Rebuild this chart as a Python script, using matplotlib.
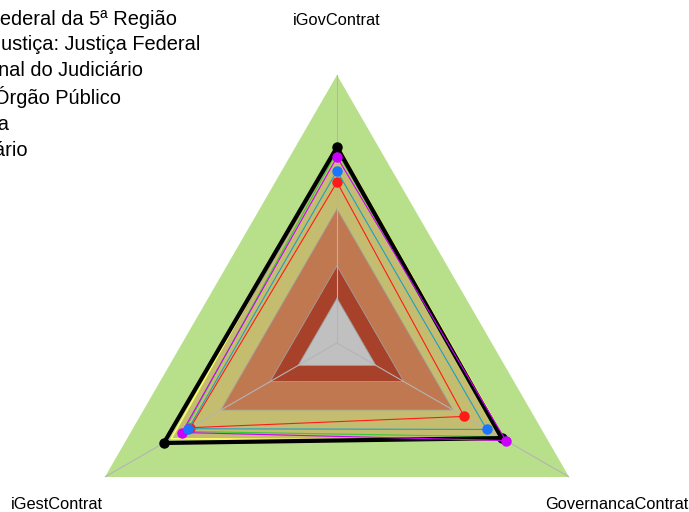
import numpy as np
import matplotlib
matplotlib.use("Agg")
import matplotlib.pyplot as plt

plt.rcParams['font.family'] = ['Liberation Sans', 'DejaVu Sans']

eixos = ["iGovContrat", "GovernancaContrat", "iGestContrat"]

# faixas de referencia (limite externo de cada faixa)
faixas = [1.0, 0.72, 0.5, 0.288, 0.167]
cores_faixas = ["#b8e08b", "#c4bd6f", "#c07850", "#a8412a", "#c0c0c0"]

nomes = ["Tribunal Regional Federal da 5ª Região",
         "Seu Segmento de Justiça: Justiça Federal",
         "Do Conselho Nacional do Judiciário",
         "Natureza Jurídica: Órgão Público",
         "Administração direta",
         "Todo o poder judiciário"]
trf5 = [0.731, 0.71, 0.746]
segmento = [0.642, 0.645, 0.64]
cnj = [0.60, 0.548, 0.632]
natureza = [0.694, 0.728, 0.668]
adm_direta = [0.742, 0.725, 0.715]
poder = [0.715, 0.70, 0.66]

theta = np.linspace(0, 2 * np.pi, len(eixos), endpoint=False)
theta_f = np.append(theta, theta[0])

def fecha(v):
    return np.append(v, v[0])

fig = plt.figure(figsize=(6.89, 5.12), dpi=100)
ax = fig.add_axes([69 / 689, (512 - 611) / 512, 536 / 689, 536 / 512], projection='polar')
ax.set_theta_offset(np.pi / 2)
ax.set_theta_direction(-1)
ax.set_ylim(0, 1)
ax.set_xticks([])
ax.set_yticks([])
ax.grid(False)
ax.spines['polar'].set_visible(False)
ax.patch.set_alpha(0)

for i, (r, c) in enumerate(zip(faixas, cores_faixas)):
    ax.fill(theta_f, fecha([r] * 3), color=c, lw=0, zorder=1)
    if i > 0:
        ax.plot(theta_f, fecha([r] * 3), color="#a0a0a0", lw=0.6, zorder=1.5)
for t in theta:
    ax.plot([t, t], [0, 1], color="#b4b4b4", lw=0.8, zorder=1.6)

series = [
    (poder, "#33cc33", 0.8, None, 2),
    (adm_direta, "#ffff66", 1.2, None, 2),
    (cnj, "#ff1a1a", 0.8, 'o', 3),
    (trf5, "black", 3.0, 'o', 4),
    (natureza, "#cc00ff", 0.8, 'o', 5),
    (segmento, "#1a75ff", 0.8, 'o', 6),
]
linhas = {}
for vals, cor, lw, mk, z in series:
    cor_linha = "#1aa0c8" if cor == "#1a75ff" else cor
    l, = ax.plot(theta_f, fecha(vals), color=cor_linha, lw=lw, zorder=z)
    if mk:
        ax.plot(theta, vals, 'o', color=cor, ms=6.5, zorder=z + 0.5)
    linhas[cor] = l

for t, nome in zip(theta, eixos):
    ax.text(t, 1.205, nome, ha='center', va='center', fontsize=11.8, clip_on=False)

ordem = ["black", "#1a75ff", "#ff1a1a", "#cc00ff", "#ffff66", "#33cc33"]
fig.legend([linhas[c] for c in ordem], nomes, loc='upper left', frameon=False,
           bbox_to_anchor=(-0.346, 0.997), bbox_transform=fig.transFigure,
           borderaxespad=0, fontsize=14.4, labelspacing=0.33)

fig.savefig("out.png", dpi=100)
